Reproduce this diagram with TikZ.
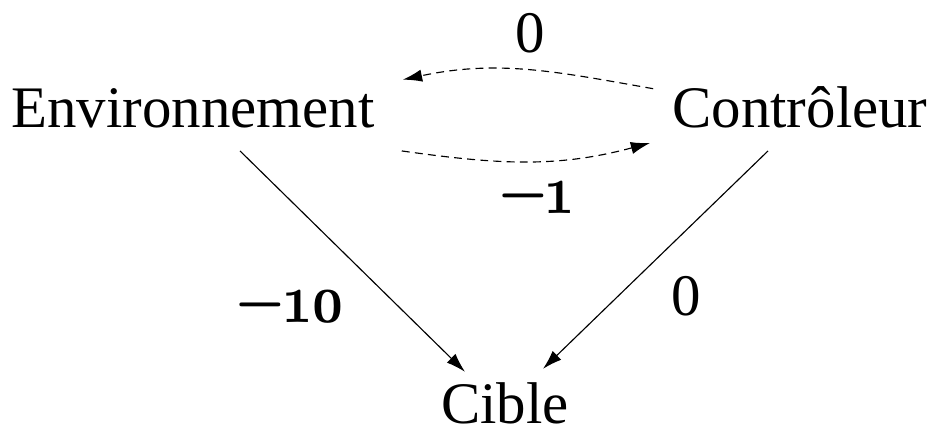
\documentclass[tikz,border=0pt]{standalone}
\usepackage{fontspec}
\setmainfont{Liberation Serif}
\newfontfamily\oldnum[Numbers=OldStyle]{Latin Modern Roman}
\usepackage{tikz}
\usetikzlibrary{arrows.meta}
\newcommand{\valneg}[1]{\scalebox{0.97}[1.25]{#1}}

\begin{document}
\begin{tikzpicture}[x=0.02cm, y=-0.02cm,
    stato/.style={inner sep=0pt, anchor=base, font=\fontsize{33.5}{40}\selectfont},
    peso/.style={inner sep=0pt, anchor=base, font=\fontsize{33.5}{40}\selectfont},
    pesoneg/.style={inner sep=0pt, anchor=base, font=\fontsize{32}{38}\selectfont\oldnum\bfseries},
    arco/.style={-{Latex[length=11pt, width=7pt]}, line width=0.65pt},
    tratto/.style={arco, dash pattern=on 4.5pt off 3pt}]
        \useasboundingbox (0,0) rectangle (932,434);

        % Nodi
        \node[stato] (E) at (193,127) {Environnement};
        \node[stato] (C) at (800,127) {Contrôleur};
        \node[stato] (T) at (505,423) {Cible};

        % Pesi
        \node[peso] (w0a) at (530,52) {0};
        \node[pesoneg] (w1) at (536,213) {\valneg{−1}};
        \node[pesoneg] (w10) at (291,322) {\valneg{−10}};
        \node[peso] (w0b) at (686,315) {0};

        % Archi
        \draw[tratto] ([shift={(-19,3)}]C.north west) to[out=170, in=12] ([shift={(28,-8)}]E.north east); % da C a E
        \draw[tratto] ([shift={(27,23)}]E.south east) to[out=-8, in=195] ([shift={(-22,15)}]C.south west); % da E a C
        \draw[arco] ([shift={(47,23)}]E.south) -- ([shift={(-40,-10)}]T.north); % da E a T
        \draw[arco] ([shift={(-32,23)}]C.south) -- ([shift={(38,-13)}]T.north); % da C a T

\end{tikzpicture}
\end{document}
